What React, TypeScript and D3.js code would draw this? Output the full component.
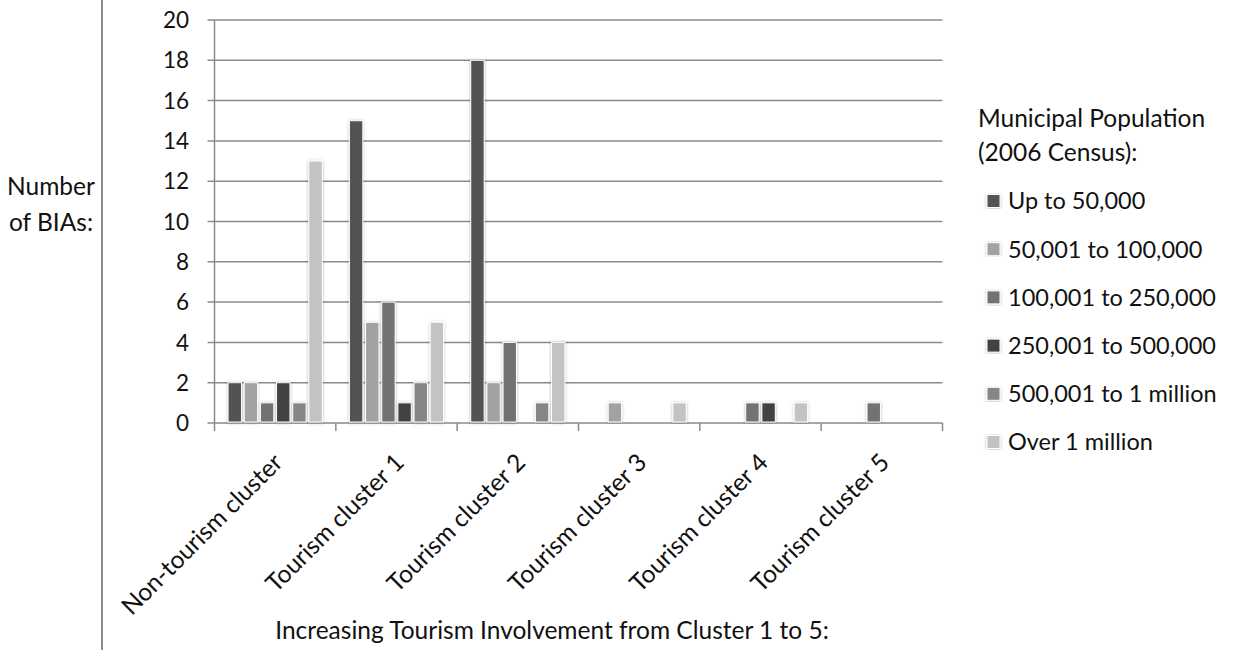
import React from "react";
import * as d3 from "d3";

// Clusters along the x axis
const categories = [
  "Non-tourism cluster",
  "Tourism cluster 1",
  "Tourism cluster 2",
  "Tourism cluster 3",
  "Tourism cluster 4",
  "Tourism cluster 5",
];

// Municipal population bands (legend order)
const seriesNames = [
  "Up to 50,000",
  "50,001 to 100,000",
  "100,001 to 250,000",
  "250,001 to 500,000",
  "500,001 to 1 million",
  "Over 1 million",
];

// Number of BIAs per cluster, one array per population band
const upTo50k = [2, 15, 18, 0, 0, 0];
const from50kTo100k = [2, 5, 2, 1, 0, 0];
const from100kTo250k = [1, 6, 4, 0, 1, 1];
const from250kTo500k = [2, 1, 0, 0, 1, 0];
const from500kTo1m = [1, 2, 1, 0, 0, 0];
const over1m = [13, 5, 4, 1, 1, 0];

const yTicks = [0, 2, 4, 6, 8, 10, 12, 14, 16, 18, 20];

const seriesColors = ["#525252", "#a2a2a2", "#727272", "#434343", "#868686", "#c3c3c3"];

const seriesValues = [upTo50k, from50kTo100k, from100kTo250k, from250kTo500k, from500kTo1m, over1m];

const W = 1234;
const H = 650;
const FONT = "Lato, 'Open Sans', sans-serif";
const GRID = "#8a8a8a";
const TEXT = "#111";

export default function App() {
  const x0 = d3.scaleBand<string>().domain(categories).range([214.5, 942.5]);
  const x1 = d3
    .scaleBand<string>()
    .domain(seriesNames)
    .range([0, x0.bandwidth()])
    .paddingInner(0.17)
    .paddingOuter(0.84);
  const y = d3.scaleLinear().domain([0, 20]).range([423, 20]);

  const [xl, xr] = x0.range();

  return (
    <svg
      width={W}
      height={H}
      style={{ position: "absolute", left: 0, top: 0, background: "#fff", fontFamily: FONT }}
    >
      <defs>
        <filter id="barShadow" x="-40%" y="-10%" width="180%" height="120%">
          <feDropShadow dx="0" dy="0.5" stdDeviation="1.6" floodColor="#000" floodOpacity="0.3" />
        </filter>
      </defs>
      <rect x={0} y={0} width={W} height={H} fill="#fff" />

      {/* separator line on the left */}
      <line x1={102} x2={102} y1={0} y2={H} stroke="#8c8c8c" strokeWidth={2} />

      {/* y-axis title */}
      <text x={51} y={195} textAnchor="middle" fontSize={24.5} fill={TEXT}>
        Number
      </text>
      <text x={51} y={231} textAnchor="middle" fontSize={24.5} fill={TEXT}>
        of BIAs:
      </text>

      {/* gridlines and y ticks */}
      {yTicks.map((t) => (
        <g key={t}>
          <line x1={xl - 7} x2={xr} y1={y(t)} y2={y(t)} stroke={GRID} strokeWidth={1.5} />
          <text x={189} y={y(t)} dy="0.36em" textAnchor="end" fontSize={22.5} fill={TEXT}>
            {t}
          </text>
        </g>
      ))}
      <line x1={xl} x2={xl} y1={y(20)} y2={y(0)} stroke={GRID} strokeWidth={1.5} />

      {/* x ticks at category boundaries */}
      {[...categories.map((c) => x0(c) as number), xr].map((bx, i) => (
        <line key={i} x1={bx} x2={bx} y1={y(0)} y2={y(0) + 8} stroke={GRID} strokeWidth={1.5} />
      ))}

      {/* bars */}
      {categories.map((c, ci) => (
        <g key={c} transform={`translate(${x0(c)},0)`}>
          {seriesNames.map((s, si) => {
            const v = seriesValues[si][ci];
            if (!v) return null;
            return (
              <rect
                key={s}
                x={x1(s)}
                y={y(v)}
                width={x1.bandwidth()}
                height={y(0) - y(v) - 1}
                fill={seriesColors[si]}
                stroke="#fff"
                strokeWidth={1}
                filter="url(#barShadow)"
              />
            );
          })}
        </g>
      ))}

      {/* category labels, rotated */}
      {categories.map((c) => {
        const cx = (x0(c) as number) + x0.bandwidth() / 2;
        const ax = cx + 9;
        const ay = 464;
        return (
          <text
            key={c}
            x={ax}
            y={ay}
            textAnchor="end"
            fontSize={24.5}
            fill={TEXT}
            transform={`rotate(-45,${ax},${ay})`}
          >
            {c}
          </text>
        );
      })}

      {/* x-axis title */}
      <text x={552} y={639} textAnchor="middle" fontSize={24.5} fill={TEXT}>
        Increasing Tourism Involvement from Cluster 1 to 5:
      </text>

      {/* legend */}
      <text x={978} y={127} fontSize={24.5} fill={TEXT}>
        Municipal Population
      </text>
      <text x={978} y={161} fontSize={24.5} fill={TEXT}>
        (2006 Census):
      </text>
      {seriesNames.map((s, i) => {
        const cy = 201 + i * 48.2;
        return (
          <g key={s}>
            <rect
              x={987}
              y={cy - 6.5}
              width={13}
              height={13}
              fill={seriesColors[i]}
              stroke="#fff"
              strokeWidth={1}
              filter="url(#barShadow)"
            />
            <text x={1008} y={cy} dy="0.36em" fontSize={23.5} fill={TEXT}>
              {s}
            </text>
          </g>
        );
      })}
    </svg>
  );
}
